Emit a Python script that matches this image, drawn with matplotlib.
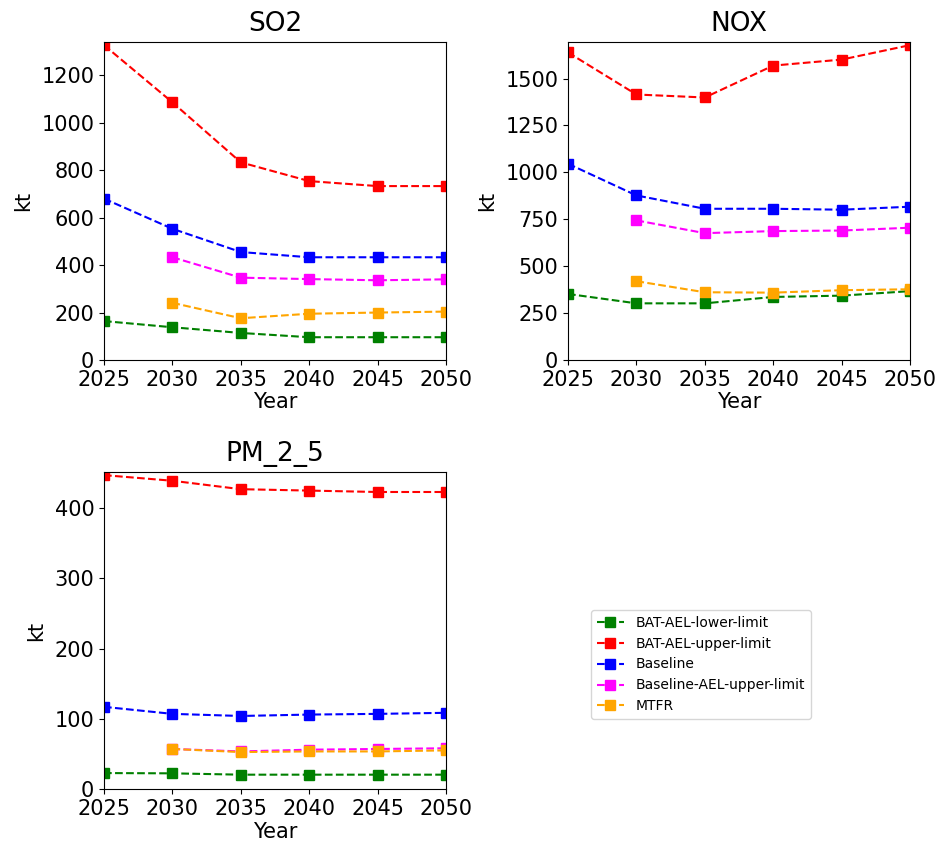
import numpy as np
from matplotlib import pyplot as plt

years = [2025, 2030, 2035, 2040, 2045, 2050]
years_late = [2030, 2035, 2040, 2045, 2050]

series_names = ["BAT-AEL-lower-limit", "BAT-AEL-upper-limit", "Baseline",
                "Baseline-AEL-upper-limit", "MTFR"]
series_colors = ["green", "red", "blue", "magenta", "orange"]

# SO2 [kt]
so2_lower = [164, 138, 114, 96, 96, 96]
so2_upper = [1327, 1086, 833, 754, 733, 733]
so2_base = [680, 553, 455, 433, 433, 433]
so2_base_ael = [433, 347, 341, 336, 340]
so2_mtfr = [241, 176, 195, 200, 204]

# NOX [kt]
nox_lower = [352, 302, 302, 336, 343, 367]
nox_upper = [1639, 1415, 1399, 1569, 1601, 1678]
nox_base = [1046, 877, 806, 806, 801, 817]
nox_base_ael = [744, 676, 687, 690, 705]
nox_mtfr = [420, 361, 359, 372, 377]

# PM_2_5 [kt]
pm_lower = [22.7, 22.3, 20.4, 20.4, 20.4, 20.4]
pm_upper = [447, 439, 427, 425, 423, 423]
pm_base = [117, 107, 104, 106, 107, 108.5]
pm_base_ael = [57, 53.5, 56, 57, 58]
pm_mtfr = [57, 52.6, 53.5, 53.5, 55]

W, H = 938, 846
fig = plt.figure(figsize=(W / 100, H / 100), dpi=100)


def px_axes(x0, y0, x1, y1):
    return fig.add_axes([x0 / W, 1 - y1 / H, (x1 - x0) / W, (y1 - y0) / H])


panels = [
    ("SO2", px_axes(104, 42, 446, 360),
     [so2_lower, so2_upper, so2_base, so2_base_ael, so2_mtfr], np.arange(0, 1201, 200)),
    ("NOX", px_axes(568, 42, 910, 360),
     [nox_lower, nox_upper, nox_base, nox_base_ael, nox_mtfr], np.arange(0, 1501, 250)),
    ("PM_2_5", px_axes(104, 472, 446, 789),
     [pm_lower, pm_upper, pm_base, pm_base_ael, pm_mtfr], np.arange(0, 401, 100)),
]

for title, ax, data, yticks in panels:
    for name, color, vals in zip(series_names, series_colors, data):
        xs = years if len(vals) == len(years) else years_late
        ax.plot(xs, vals, "--s", color=color, label=name, linewidth=1.5,
                markersize=7)
    top = max(max(v) for v in data) * 1.01
    ax.set_xlim(2025, 2050)
    ax.set_ylim(0, top)
    ax.set_xticks(years)
    ax.set_yticks(yticks)
    ax.tick_params(labelsize=15)
    ax.set_title(title, fontsize=19, pad=8)
    ax.set_xlabel("Year", fontsize=15, labelpad=2)
    ax.set_ylabel("kt", fontsize=15, labelpad=6)

handles, labels = panels[0][1].get_legend_handles_labels()
fig.legend(handles, labels, loc="upper left", borderaxespad=0,
           bbox_to_anchor=(591 / W, 1 - 610 / H), fontsize=10)

plt.savefig("out.png", dpi=100)
